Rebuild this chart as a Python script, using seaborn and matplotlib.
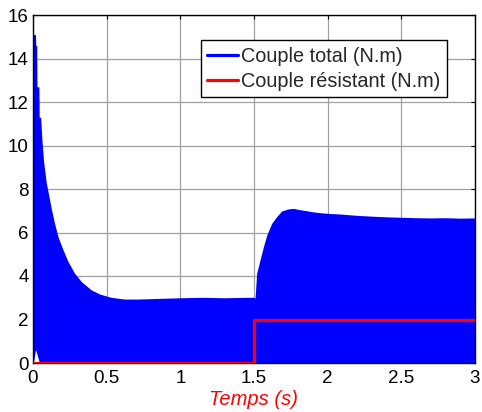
import numpy as np
import pandas as pd
import matplotlib
matplotlib.use("Agg")
import matplotlib.pyplot as plt
from matplotlib.lines import Line2D
import seaborn as sns

# enveloppe du couple total
t_env = [0.002, 0.017, 0.019, 0.025, 0.027, 0.040, 0.042, 0.052, 0.061, 0.073,
         0.090, 0.107, 0.124, 0.147, 0.170, 0.204, 0.238, 0.283, 0.328, 0.396,
         0.453, 0.530, 0.620, 0.710, 0.850, 1.000, 1.150, 1.300, 1.450, 1.502,
         1.507, 1.518, 1.541, 1.564, 1.587, 1.620, 1.654, 1.688, 1.730, 1.767,
         1.810, 1.858, 1.900, 1.948, 2.000, 2.084, 2.140, 2.197, 2.300, 2.400,
         2.500, 2.600, 2.700, 2.800, 2.900, 3.000]
couple_haut = [15.1, 15.1, 14.6, 14.6, 12.7, 12.7, 11.3, 11.3, 10.2, 9.2,
               8.3, 7.7, 7.1, 6.4, 5.8, 5.2, 4.66, 4.12, 3.74, 3.36,
               3.17, 3.02, 2.94, 2.94, 2.97, 3.00, 3.02, 3.00, 3.02, 3.02,
               2.97, 4.12, 4.74, 5.35, 5.89, 6.42, 6.73, 6.99, 7.08, 7.11,
               7.05, 7.00, 6.95, 6.91, 6.88, 6.85, 6.82, 6.79, 6.75, 6.72,
               6.70, 6.68, 6.67, 6.68, 6.66, 6.67]
couple_bas = [0.0, 0.6, 0.6, 0.45, 0.4, 0.1, 0.0, 0.0, 0.0, 0.0,
              0.0, 0.0, 0.0, 0.0, 0.0, 0.0, 0.0, 0.0, 0.0, 0.0,
              0.0, 0.0, 0.0, 0.0, 0.0, 0.0, 0.0, 0.0, 0.0, 0.0,
              0.0, 0.0, 0.0, 0.0, 0.0, 0.0, 0.0, 0.0, 0.0, 0.0,
              0.0, 0.0, 0.0, 0.0, 0.0, 0.0, 0.0, 0.0, 0.0, 0.0,
              0.0, 0.0, 0.0, 0.0, 0.0, 0.0]

# couple résistant (échelon à 1.5 s)
t_res = [0.0, 1.5, 3.0]
couple_res = [0.0, 2.0, 2.0]

xticks = [0, 0.5, 1, 1.5, 2, 2.5, 3]
xticklabels = ["0", "0.5", "1", "1.5", "2", "2.5", "3"]
yticks = [0, 2, 4, 6, 8, 10, 12, 14, 16]

sns.set_style("white")
plt.rcParams['font.family'] = ['Liberation Sans', 'DejaVu Sans']

fig = plt.figure(figsize=(4.82, 4.12), dpi=100)
ax = fig.add_axes([33 / 482, 1 - 363 / 412, 442 / 482, 348 / 412])

ax.fill_between(t_env, couple_bas, couple_haut, color="#0000ff", lw=0)
res = pd.DataFrame({"t": t_res, "c": couple_res})
sns.lineplot(data=res, x="t", y="c", ax=ax, color="#ff0000", lw=2.3,
             drawstyle="steps-post", zorder=3)

ax.set_xlim(0, 3)
ax.set_ylim(0, 16)
ax.set_xticks(xticks)
ax.set_xticklabels(xticklabels)
ax.set_yticks(yticks)
ax.grid(True, color="#a0a0a0", lw=0.9)
ax.set_axisbelow(True)
for s in ax.spines.values():
    s.set_color("black")
    s.set_linewidth(1.0)
    s.set_visible(True)
ax.tick_params(direction="in", length=3, width=0.8, top=True, right=True,
               labelsize=13.5, colors="black")
ax.tick_params(axis="x", pad=5)
ax.tick_params(axis="y", pad=3)
ax.set_xlabel("Temps (s)", color="#ff0000", style="italic", fontsize=14.5,
              labelpad=2)
ax.set_ylabel("")

handles = [Line2D([], [], color="#0000ff", lw=2.3),
           Line2D([], [], color="#ff0000", lw=2.3)]
leg = ax.legend(handles, ["Couple total (N.m)", "Couple résistant (N.m)"],
                loc="upper left", bbox_to_anchor=(0.379, 0.928),
                borderaxespad=0, fontsize=14.3, handlelength=1.55,
                handletextpad=0.15, borderpad=0.33, labelspacing=0.3,
                fancybox=False, framealpha=1, edgecolor="black")
leg.get_frame().set_linewidth(1.0)

fig.savefig("out.png", dpi=100)
